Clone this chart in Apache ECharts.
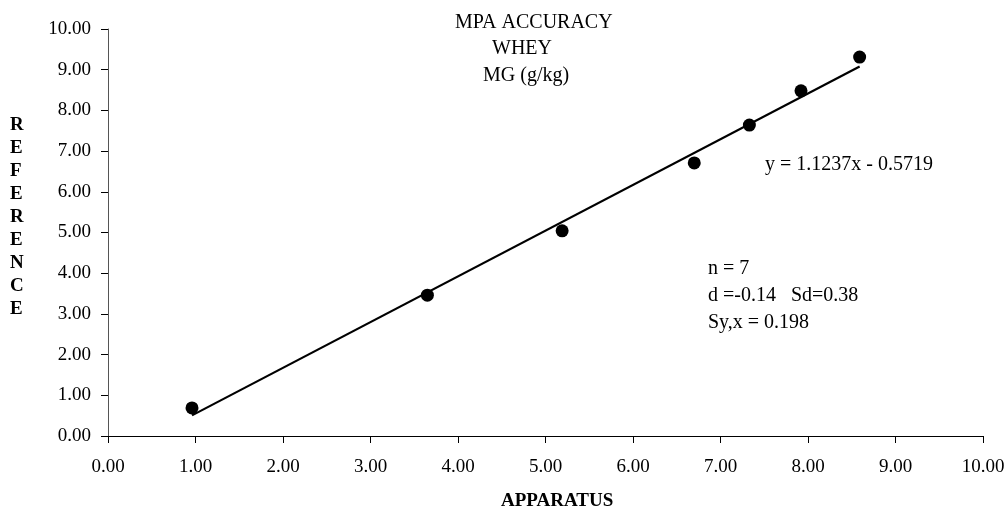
<!DOCTYPE html>
<html>
<head>
<meta charset="utf-8">
<script src="https://cdn.jsdelivr.net/npm/echarts@6/dist/echarts.min.js"></script>
<style>
  html, body { margin: 0; padding: 0; background: #fff; }
  #chart { width: 1008px; height: 510px; }
</style>
</head>
<body>
<div id="chart"></div>
<script>
// measured values (apparatus vs reference, g/kg)
var apparatus = [0.96, 3.65, 5.19, 6.70, 7.33, 7.92, 8.59];
var reference = [0.69, 3.46, 5.04, 6.71, 7.64, 8.48, 9.31];
// regression printed on the chart
var slope = 1.1237;
var intercept = -0.5719;
var titleLines = ['MPA ACCURACY', 'WHEY', 'MG (g/kg)'];
var statLines = ['n = 7', 'd =-0.14   Sd=0.38', 'Sy,x = 0.198'];
var yName = 'REFERENCE';
var xName = 'APPARATUS';

var FONT = "'Liberation Serif', 'Times New Roman', serif";

var points = apparatus.map(function (x, i) { return [x, reference[i]]; });
var xMin = Math.min.apply(null, apparatus);
var xMax = Math.max.apply(null, apparatus);
var trend = [[xMin, slope * xMin + intercept], [xMax, slope * xMax + intercept]];

var chart = echarts.init(document.getElementById('chart'));

var option = {
  backgroundColor: '#fff',
  animation: false,
  textStyle: { fontFamily: FONT },
  grid: { left: 108, right: 25, top: 29, bottom: 74 },
  xAxis: {
    type: 'value',
    min: 0,
    max: 10,
    interval: 1,
    splitLine: { show: false },
    axisLine: { lineStyle: { color: '#000', width: 1 } },
    axisTick: { inside: false, length: 7, lineStyle: { color: '#000' } },
    axisLabel: {
      color: '#000', fontFamily: FONT, fontSize: 19, margin: 22,
      formatter: function (v) { return v.toFixed(2); }
    }
  },
  yAxis: {
    type: 'value',
    min: 0,
    max: 10,
    interval: 1,
    splitLine: { show: false },
    axisLine: { show: true, lineStyle: { color: '#555', width: 1 } },
    axisTick: { show: true, inside: false, length: 7, lineStyle: { color: '#000' } },
    axisLabel: {
      color: '#000', fontFamily: FONT, fontSize: 19, margin: 17,
      formatter: function (v) { return v.toFixed(2); }
    }
  },
  series: [
    {
      type: 'line',
      data: trend,
      symbol: 'none',
      lineStyle: { color: '#000', width: 2.2 },
      z: 2
    },
    {
      type: 'scatter',
      data: points,
      symbol: 'circle',
      symbolSize: 13,
      itemStyle: { color: '#000', opacity: 1 },
      z: 3
    }
  ],
  graphic: [
    { type: 'text', left: 455, top: 13, style: { text: titleLines[0], font: '20px ' + FONT, fill: '#000' } },
    { type: 'text', left: 492, top: 39, style: { text: titleLines[1], font: '20px ' + FONT, fill: '#000' } },
    { type: 'text', left: 483, top: 66, style: { text: titleLines[2], font: '20px ' + FONT, fill: '#000' } },
    { type: 'text', left: 765, top: 155, style: { text: 'y = ' + slope + 'x - ' + Math.abs(intercept), font: '20px ' + FONT, fill: '#000' } },
    { type: 'text', left: 708, top: 255, style: { text: statLines.join('\n'), font: '20px ' + FONT, lineHeight: 27, fill: '#000' } },
    { type: 'text', left: 10, top: 114, style: { text: yName.split('').join('\n'), font: 'bold 19px ' + FONT, lineHeight: 23, fill: '#000' } },
    { type: 'text', left: 501, top: 492, style: { text: xName, font: 'bold 19px ' + FONT, fill: '#000' } }
  ]
};

chart.setOption(option);
</script>
</body>
</html>
